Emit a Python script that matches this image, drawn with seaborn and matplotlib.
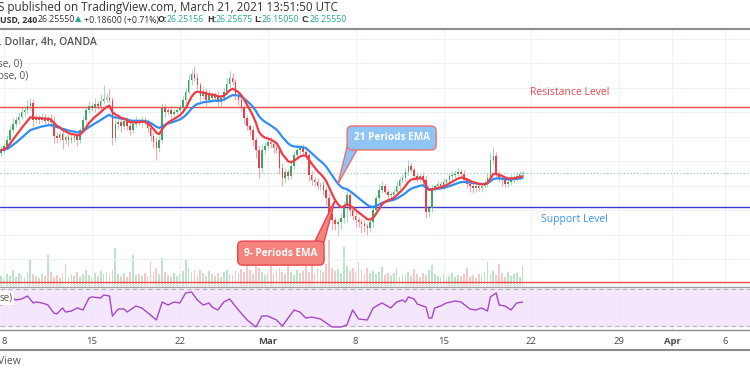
import numpy as np
import pandas as pd
import matplotlib.pyplot as plt
import seaborn as sns
from matplotlib.lines import Line2D
from matplotlib.patches import Polygon

# XAGUSD 4h closes (bar 0 = first bar of Mon Feb 8)
closes = [
    26.72,
    26.81, 26.93, 27.13, 27.26, 27.34, 27.40,
    27.50, 27.54, 27.62, 27.68, 27.34, 27.38,
    27.34, 27.38, 27.32, 27.36, 27.30, 27.01,
    26.97, 27.05, 26.93, 26.99, 26.93, 26.97,
    27.01, 26.93, 27.13, 27.34, 27.54, 27.62,
    27.58, 27.66, 27.62, 27.72, 27.77, 27.79,
    27.75, 26.97, 27.26, 27.30, 27.21, 27.32,
    27.21, 27.13, 27.26, 27.32, 27.28, 27.34,
    27.30, 27.17, 27.01, 26.89, 26.77, 26.93,
    27.58, 27.50, 27.54, 27.46, 27.50, 27.54,
    27.58, 27.75, 27.91, 28.15, 28.28, 28.19,
    28.05, 27.83, 27.91, 27.75, 27.85, 27.79,
    27.83, 27.70, 27.79, 27.91, 28.07, 28.19,
    28.11, 27.83, 27.75, 27.58, 27.38, 27.21,
    27.13, 26.93, 26.72, 26.36, 26.72, 26.81,
    26.89, 26.85, 26.77, 26.72, 26.36, 26.15,
    26.28, 26.19, 26.40, 26.62, 26.72, 26.77,
    26.68, 26.62, 26.21, 26.11, 26.07, 25.99,
    26.01, 25.91, 25.75, 25.42, 25.30, 25.22,
    25.26, 25.34, 25.60, 25.81, 25.50, 25.38,
    25.30, 25.26, 25.22, 25.17, 25.13, 25.26,
    25.50, 25.75, 25.91, 25.99, 25.87, 25.81,
    25.81, 25.87, 25.99, 26.11, 26.15, 26.28,
    26.40, 26.32, 26.19, 26.15, 26.19, 26.11,
    25.46, 25.54, 25.95, 25.99, 26.03, 25.99,
    26.07, 26.11, 26.19, 26.21, 26.24, 26.28,
    26.24, 26.11, 26.03, 25.99, 25.95, 25.99,
    25.95, 25.99, 26.03, 26.15, 26.52, 26.60,
    26.24, 26.15, 26.11, 26.03, 26.07, 26.15,
    26.15, 26.19, 26.24, 26.2555,
]
first_open = 26.66

upper_wick = [
    0.08,
    0.06, 0.10, 0.08, 0.12, 0.05, 0.09,
    0.10, 0.07, 0.12, 0.10, 0.08, 0.06,
    0.05, 0.10, 0.07, 0.06, 0.09, 0.12,
    0.08, 0.06, 0.10, 0.05, 0.07, 0.08,
    0.06, 0.09, 0.05, 0.08, 0.07, 0.10,
    0.08, 0.12, 0.06, 0.15, 0.28, 0.10,
    0.18, 0.06, 0.10, 0.12, 0.08, 0.05,
    0.07, 0.10, 0.06, 0.09, 0.05, 0.08,
    0.06, 0.05, 0.08, 0.06, 0.10, 0.09,
    0.10, 0.08, 0.06, 0.09, 0.07, 0.05,
    0.06, 0.08, 0.10, 0.12, 0.08, 0.15,
    0.10, 0.06, 0.12, 0.08, 0.09, 0.06,
    0.07, 0.10, 0.06, 0.08, 0.12, 0.15,
    0.10, 0.06, 0.08, 0.05, 0.07, 0.06,
    0.05, 0.08, 0.06, 0.10, 0.12, 0.08,
    0.06, 0.09, 0.07, 0.05, 0.08, 0.10,
    0.08, 0.06, 0.10, 0.08, 0.12, 0.06,
    0.07, 0.10, 0.05, 0.08, 0.06, 0.09,
    0.06, 0.08, 0.05, 0.10, 0.07, 0.06,
    0.05, 0.09, 0.08, 0.12, 0.06, 0.08,
    0.07, 0.06, 0.05, 0.08, 0.06, 0.10,
    0.08, 0.06, 0.12, 0.10, 0.07, 0.05,
    0.06, 0.08, 0.10, 0.07, 0.09, 0.08,
    0.12, 0.08, 0.06, 0.07, 0.05, 0.08,
    0.10, 0.06, 0.08, 0.05, 0.07, 0.06,
    0.08, 0.05, 0.06, 0.09, 0.07, 0.08,
    0.06, 0.08, 0.05, 0.07, 0.06, 0.05,
    0.07, 0.06, 0.08, 0.10, 0.14, 0.18,
    0.08, 0.06, 0.05, 0.07, 0.06, 0.08,
    0.06, 0.08, 0.05, 0.04,
]

lower_wick = [
    0.06,
    0.08, 0.06, 0.10, 0.05, 0.07, 0.06,
    0.05, 0.08, 0.06, 0.07, 0.12, 0.06,
    0.08, 0.05, 0.07, 0.06, 0.10, 0.15,
    0.10, 0.06, 0.18, 0.08, 0.12, 0.06,
    0.08, 0.12, 0.06, 0.05, 0.07, 0.06,
    0.05, 0.07, 0.06, 0.08, 0.05, 0.06,
    0.07, 0.15, 0.08, 0.10, 0.12, 0.06,
    0.08, 0.10, 0.06, 0.07, 0.05, 0.08,
    0.06, 0.08, 0.10, 0.12, 0.25, 0.08,
    0.06, 0.10, 0.07, 0.08, 0.06, 0.05,
    0.07, 0.06, 0.08, 0.05, 0.10, 0.06,
    0.08, 0.10, 0.06, 0.12, 0.07, 0.08,
    0.06, 0.08, 0.10, 0.06, 0.05, 0.07,
    0.06, 0.08, 0.10, 0.06, 0.12, 0.08,
    0.10, 0.12, 0.15, 0.20, 0.10, 0.08,
    0.06, 0.08, 0.10, 0.06, 0.12, 0.15,
    0.10, 0.08, 0.06, 0.07, 0.05, 0.08,
    0.06, 0.08, 0.12, 0.10, 0.08, 0.06,
    0.08, 0.10, 0.15, 0.18, 0.20, 0.12,
    0.22, 0.15, 0.10, 0.35, 0.12, 0.08,
    0.15, 0.10, 0.18, 0.12, 0.14, 0.08,
    0.10, 0.08, 0.06, 0.07, 0.05, 0.08,
    0.06, 0.08, 0.05, 0.07, 0.06, 0.05,
    0.06, 0.05, 0.08, 0.07, 0.06, 0.10,
    0.12, 0.10, 0.08, 0.06, 0.07, 0.05,
    0.06, 0.08, 0.05, 0.07, 0.06, 0.05,
    0.07, 0.06, 0.08, 0.12, 0.10, 0.08,
    0.06, 0.08, 0.05, 0.07, 0.06, 0.08,
    0.10, 0.08, 0.12, 0.07, 0.06, 0.05,
    0.10, 0.06, 0.08, 0.05,
]

volume = [
    10,
    8, 12, 10, 16, 9, 13,
    11, 9, 14, 26, 12, 10,
    8, 12, 10, 31, 14, 9,
    11, 8, 13, 22, 9, 12,
    10, 14, 9, 12, 16, 11,
    9, 13, 10, 15, 12, 14,
    11, 16, 38, 12, 10, 13,
    9, 14, 31, 11, 12, 10,
    13, 10, 25, 15, 18, 12,
    28, 14, 11, 9, 13, 10,
    12, 15, 27, 18, 14, 16,
    11, 16, 13, 10, 15, 12,
    10, 13, 9, 14, 16, 12,
    11, 15, 13, 17, 14, 38,
    16, 12, 26, 18, 14, 11,
    13, 20, 12, 15, 18, 14,
    12, 22, 14, 11, 16, 13,
    15, 39, 14, 31, 12, 18,
    16, 14, 22, 46, 18, 15,
    17, 13, 39, 20, 15, 18,
    14, 24, 16, 12, 18, 13,
    15, 12, 14, 19, 11, 13,
    10, 13, 18, 9, 12, 11,
    14, 10, 17, 12, 9, 13,
    11, 16, 21, 12, 10, 9,
    12, 8, 10, 13, 9, 11,
    10, 12, 18, 9, 11, 8,
    12, 10, 14, 24, 12, 15,
    11, 22, 13, 9, 14, 10,
    12, 13, 9, 20,
]

# RSI line as drawn in the lower pane
rsi_bars = [-1, 1, 3, 4, 6, 8, 10, 11, 13, 15, 17, 18, 20, 21, 23, 25, 27, 29, 30,
            33, 34, 36, 37, 39, 41, 42, 45, 47, 50, 52, 54, 56, 58, 60, 62, 64, 66,
            68, 70, 71, 73, 75, 77, 80, 83, 86, 88, 90, 93, 95, 99, 101, 103, 105,
            108, 111, 112, 115, 117, 119, 121, 124, 126, 129, 132, 134, 136, 137,
            138, 140, 141, 144, 145, 146, 147, 149, 151, 154, 156, 159, 161, 163,
            165, 166, 168, 169, 171, 173, 175, 177]
rsi_values = [52.7, 55.9, 60.3, 58.1, 59.2, 62.4, 54.9, 55.9, 54.9, 52.7, 44.1, 43.0,
              49.5, 45.1, 46.2, 49.5, 47.3, 60.3, 61.4, 60.3, 63.5, 62.4, 40.8, 48.4,
              48.4, 45.1, 51.6, 49.5, 41.9, 36.5, 55.9, 52.7, 55.9, 54.9, 65.7, 66.8,
              58.1, 52.7, 54.9, 50.5, 47.3, 55.9, 59.2, 47.3, 36.5, 28.9, 40.8, 40.8,
              36.5, 30.0, 47.3, 45.1, 38.6, 39.7, 37.6, 31.1, 28.9, 28.9, 31.1, 47.3,
              37.6, 36.5, 49.5, 54.9, 49.5, 55.9, 58.1, 55.9, 61.4, 59.2, 53.8, 50.5,
              38.6, 38.6, 49.5, 51.6, 54.9, 57.0, 55.9, 48.4, 47.3, 49.5, 46.2, 61.4,
              65.7, 52.7, 51.6, 47.3, 54.9, 55.9]

tick_bars = [0, 30, 60, 90, 120, 150, 180, 210, 228, 246]
tick_labels = ["8", "15", "22", "Mar", "8", "15", "22", "29", "Apr", "6"]

resistance = 27.61
support = 25.555
lower_level = 24.03
last_price = 26.2555

UP = "#3fa66a"
DOWN = "#ea3e4b"

sns.set_theme(style="white")
plt.rcParams["font.family"] = ["Open Sans", "DejaVu Sans"]

x = np.arange(len(closes)) - 1
c = np.array(closes)
o = np.array([first_open] + closes[:-1])
up = c >= o
hi = np.maximum(o, c) + np.array(upper_wick)
lo = np.minimum(o, c) - np.array(lower_wick)

s = pd.Series(closes)
ema9 = s.ewm(span=9, adjust=False).mean().values
ema21 = s.ewm(span=21, adjust=False).mean().values

fig = plt.figure(figsize=(7.5, 3.75), dpi=100)
W, H = 750, 375
ax = fig.add_axes([0, 89 / H, 1, 256 / H])
vax = ax.twinx()
rax = fig.add_axes([0, 45 / H, 1, 43 / H])

xlim = (-4 / 2.93, 746 / 2.93)

# volume underlay
vcol = np.where(up, "#bde2ca", "#f5c8c8")
vax.bar(x, volume, width=0.6, color=vcol, linewidth=0)
vax.set_ylim(0, 256)
vax.set_yticks([])
vax.set_xlim(*xlim)
for sp in vax.spines.values():
    sp.set_visible(False)
ax.set_zorder(vax.get_zorder() + 1)
ax.patch.set_visible(False)

# price pane
ax.set_xlim(*xlim)
ax.set_ylim(23.949, 29.174)
ax.set_xticks(tick_bars)
ax.set_yticks(np.arange(24.0, 29.01, 0.5))
ax.grid(True, color="#edf1f5", lw=0.8)
ax.tick_params(labelbottom=False, labelleft=False, length=0)
for sp in ax.spines.values():
    sp.set_visible(False)

ax.vlines(x, lo, hi, colors=np.where(up, "#a9d8bb", "#f4a9ae"), lw=0.8, zorder=2)
ax.bar(x, np.maximum(np.abs(c - o), 0.012), bottom=np.minimum(o, c), width=0.55,
       color=np.where(up, UP, DOWN), linewidth=0, zorder=3)

sns.lineplot(x=x, y=ema21, ax=ax, color="#2f8ff0", lw=1.6, zorder=4)
sns.lineplot(x=x, y=ema9, ax=ax, color="#ef3b45", lw=1.6, zorder=4)

ax.axhline(resistance, color="#f04a4a", lw=1.0, zorder=2)
ax.axhline(support, color="#3b3bd0", lw=1.0, zorder=2)
ax.axhline(lower_level, color="#f04a4a", lw=1.0, zorder=2)
ax.axhline(last_price, color="#8fc9ad", lw=0.8, ls=(0, (1, 2)), zorder=2)

ax.text(0.76, 0.757, "Resistance Level", transform=ax.transAxes, color="#e8464f",
        fontsize=7.5, ha="center", va="center")
ax.text(0.766, 0.258, "Support Level", transform=ax.transAxes, color="#3a94ee",
        fontsize=7.5, ha="center", va="center")

# callouts
b21 = ema21[x == 114][0]
b9 = ema9[x == 113][0]
ax.add_patch(Polygon([(117.4, 26.87), (120.8, 26.76), (114, b21)], closed=True,
                     fc="#8ec5f5", ec="#ef7070", lw=1, zorder=6))
ax.text(132.3, 26.97, "21 Periods EMA", color="white", fontsize=7.2, fontweight="bold",
        ha="center", va="center", zorder=7,
        bbox=dict(boxstyle="round,pad=0.65,rounding_size=0.5", fc="#8ec5f5", ec="#ef7070", lw=1))
ax.add_patch(Polygon([(105.6, 24.80), (109.0, 24.80), (113, b9)], closed=True,
                     fc="#f4837d", ec="#e8464f", lw=1, zorder=6))
ax.text(94.5, 24.62, "9- Periods EMA", color="white", fontsize=7.2, fontweight="bold",
        ha="center", va="center", zorder=7,
        bbox=dict(boxstyle="round,pad=0.65,rounding_size=0.5", fc="#f4837d", ec="#e8464f", lw=1))

# RSI pane
rax.set_xlim(*xlim)
rax.set_ylim(25.68, 72.16)
rax.axhspan(30, 70, color="#f3e6fd", zorder=0)
rax.axhline(70, color="#b5b5b5", lw=0.8, ls=(0, (4, 3)))
rax.axhline(30, color="#b5b5b5", lw=0.8, ls=(0, (4, 3)))
sns.lineplot(x=rsi_bars, y=rsi_values, ax=rax, color="#a648c6", lw=1.0, zorder=3)
rax.set_xticks(tick_bars)
rax.set_xticklabels(tick_labels)
rax.set_yticks([])
rax.grid(True, axis="x", color="#e7ecf2", lw=0.8)
rax.tick_params(axis="x", length=0, pad=5, labelsize=6.8, labelcolor="#4a4a4a")
for lab in rax.get_xticklabels():
    if lab.get_text() in ("Mar", "Apr"):
        lab.set_fontweight("bold")
for sp in ("top", "left", "right"):
    rax.spines[sp].set_visible(False)
rax.spines["bottom"].set_color("#8a8a8a")
rax.spines["bottom"].set_linewidth(1.0)
rax.text(0.0, 0.75, "se)", transform=rax.transAxes, fontsize=7, color="#555555",
         va="center", ha="left", bbox=dict(fc="white", ec="none", pad=1))

# frame lines
for yp, col, lw in [(29, "#8c8c8c", 1.5), (287, "#a0a0a0", 1.0), (350, "#8c8c8c", 1.5)]:
    fig.add_artist(Line2D([0, 1], [1 - yp / H, 1 - yp / H], color=col, lw=lw,
                          transform=fig.transFigure))

# header
def ftext(px, py, t, **kw):
    kw.setdefault("fontsize", 6.3)
    kw.setdefault("color", "#333333")
    fig.text(px / W, 1 - py / H, t, va="center", ha="left", **kw)

TEAL = "#26a69a"
ftext(-2, 7, "S published on TradingView.com, March 21, 2021 13:51:50 UTC", fontsize=8.4)
ftext(0, 20, "USD, 240", fontweight="bold")
ftext(38, 20, "26.25550")
ftext(75, 20, "▲", color=TEAL, fontsize=6)
ftext(84, 20, "+0.18600 (+0.71%)")
ftext(158, 20, "O:", fontweight="bold")
ftext(167, 20, "26.25156", color=TEAL)
ftext(207, 20, "H:", fontweight="bold")
ftext(216, 20, "26.25675", color=TEAL)
ftext(254, 20, "L:", fontweight="bold")
ftext(262, 20, "26.15050", color=TEAL)
ftext(301, 20, "C:", fontweight="bold")
ftext(310, 20, "26.25550", color=TEAL)

ftext(-1, 42, ". Dollar, 4h, OANDA", color="#555555", fontweight="semibold", fontsize=7.6)
ftext(-2, 64, "se, 0)", color="#555555", fontsize=7.2)
ftext(-2, 76, "ose, 0)", color="#555555", fontsize=7.2)
ftext(-2, 362, "View", color="#555555", fontsize=7.6)

fig.savefig("out.png", dpi=100)
